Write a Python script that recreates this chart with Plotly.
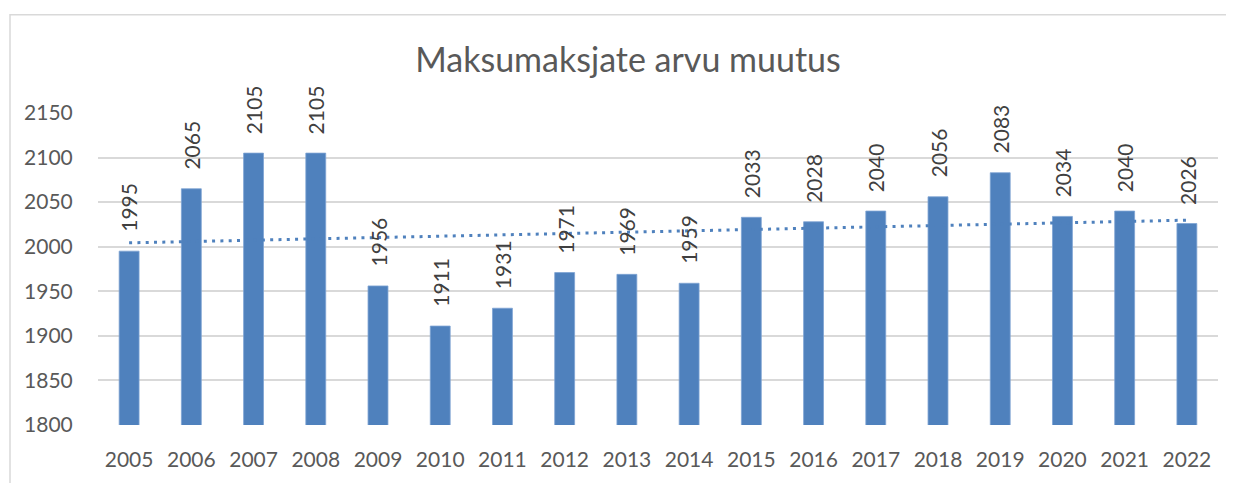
import numpy as np
import plotly.graph_objects as go

years = ["2005", "2006", "2007", "2008", "2009", "2010", "2011", "2012", "2013",
         "2014", "2015", "2016", "2017", "2018", "2019", "2020", "2021", "2022"]
values = [1995, 2065, 2105, 2105, 1956, 1911, 1931, 1971, 1969,
          1959, 2033, 2028, 2040, 2056, 2083, 2034, 2040, 2026]
title_text = "Maksumaksjate arvu muutus"
y_ticks = [1800, 1850, 1900, 1950, 2000, 2050, 2100, 2150]

BAR = "#4F81BD"
FONT = "Lato"

idx = np.arange(len(values))
slope, intercept = np.polyfit(idx, values, 1)
trend = slope * idx + intercept

# page has an 8px body margin; figure placed so plot area sits at x 98..1218, y 113..427
W, H = 1226, 475
L, R, T, B = 90, 16, 105, 56
PW, PH = W - L - R, H - T - B  # 1120 x 314

fig = go.Figure()
fig.add_trace(go.Bar(
    x=years, y=values,
    marker=dict(color=BAR, line=dict(color="#7EA3D3", width=0.8)),
    hoverinfo="x+y",
))
fig.add_trace(go.Scatter(
    x=years, y=trend, mode="lines",
    line=dict(color=BAR, width=3, dash="3px,5.3px"),
    hoverinfo="skip",
))

for i, v in enumerate(values):
    fig.add_annotation(
        x=i, y=v, text=str(v), textangle=-90, showarrow=False,
        xanchor="center", yanchor="bottom", yshift=17,
        font=dict(family=FONT, size=21, color="#404040"),
    )

# chart border (page px: left 10, top 14, right/bottom beyond view)
fig.add_shape(type="rect", xref="paper", yref="paper",
              x0=(2 - L) / PW, x1=(W + 20 - L) / PW,
              y0=-(B + 20) / PH, y1=(T + PH - 6) / PH,
              line=dict(color="#D9D9D9", width=1.5), fillcolor="rgba(0,0,0,0)",
              layer="below")

fig.update_layout(
    width=W, height=H,
    margin=dict(l=L, r=R, t=T, b=B),
    paper_bgcolor="white", plot_bgcolor="white",
    showlegend=False,
    bargap=0.68,
    title=dict(text=title_text, x=620 / W, xanchor="center",
               y=1 - 52 / H, yanchor="middle", xref="container", yref="container",
               font=dict(family=FONT, size=34, color="#595959")),
    font=dict(family=FONT, size=21, color="#595959"),
)
fig.update_xaxes(
    type="category", range=[-0.5, len(years) - 0.5],
    showgrid=False, showline=False, zeroline=False,
    ticks="outside", ticklen=16, tickcolor="rgba(0,0,0,0)",
    tickfont=dict(family=FONT, size=21, color="#595959"),
)
fig.update_yaxes(
    range=[1800, 2150], tickvals=y_ticks, showgrid=True,
    gridcolor="#D9D9D9", gridwidth=1.5, zeroline=False, showline=False,
    ticks="outside", ticklen=20, tickcolor="rgba(0,0,0,0)",
    tickfont=dict(family=FONT, size=21, color="#595959"),
)

fig.write_html("out.html")
